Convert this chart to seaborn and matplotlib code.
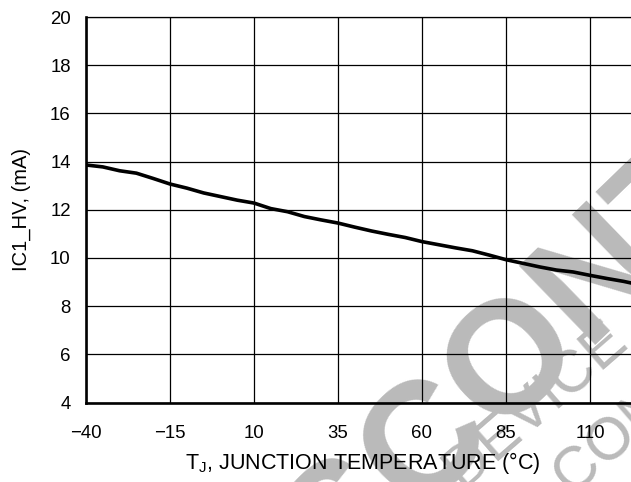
import matplotlib
matplotlib.use("Agg")
import matplotlib.pyplot as plt
import seaborn as sns
import pandas as pd

temps = [-40, -35, -30, -25, -20, -15, -10, -5, 0, 5, 10, 15, 20, 25, 30, 35,
         40, 45, 50, 55, 60, 65, 70, 75, 80, 85, 90, 95, 100, 105, 110, 115, 120, 125]
current = [13.86, 13.78, 13.62, 13.52, 13.30, 13.07, 12.90, 12.70, 12.55, 12.40, 12.28,
           12.05, 11.92, 11.72, 11.58, 11.45, 11.28, 11.12, 10.98, 10.85, 10.68, 10.55,
           10.42, 10.30, 10.12, 9.93, 9.78, 9.63, 9.50, 9.42, 9.28, 9.15, 9.03, 8.88]
xticks = [-40, -15, 10, 35, 60, 85, 110]
xtick_labels = ["\u221240", "\u221215", "10", "35", "60", "85", "110"]
yticks = [4, 6, 8, 10, 12, 14, 16, 18, 20]

df = pd.DataFrame({"T": temps, "I": current})

sns.set_theme(style="white")
plt.rcParams["font.family"] = ["Liberation Sans", "DejaVu Sans"]

W, H = 631, 482
fig = plt.figure(figsize=(W / 100, H / 100), dpi=100)
left = 86 / W
bottom = (H - 402.6) / H
height = 385.6 / H
width = 165 * 3.36 / W
ax = fig.add_axes([left, bottom, width, height])
ax.patch.set_alpha(0)

sns.lineplot(data=df, x="T", y="I", ax=ax, color="black", linewidth=2.6, zorder=5)

ax.set_xlim(-40, 125)
ax.set_ylim(4, 20)
ax.set_xticks(xticks)
ax.set_xticklabels(xtick_labels)
ax.set_yticks(yticks)
ax.grid(True, color="black", linewidth=0.9)
ax.set_axisbelow(False)
for l in ax.get_xgridlines() + ax.get_ygridlines():
    l.set_zorder(2)
ax.tick_params(axis="both", length=0, labelsize=13.4, colors="black")
ax.tick_params(axis="x", pad=16)
ax.tick_params(axis="y", pad=11)
for s in ["left", "bottom"]:
    ax.spines[s].set_linewidth(1.9)
    ax.spines[s].set_color("black")
ax.spines["top"].set_linewidth(0.9)
ax.spines["top"].set_color("black")
ax.spines["right"].set_visible(False)

ax.set_xlabel("T$_\\mathregular{J}$, JUNCTION TEMPERATURE (\u00b0C)", fontsize=15.5, color="black", labelpad=6)
ax.set_ylabel("IC1_HV, (mA)", fontsize=14.5, color="black", labelpad=14)

wm = "#bababa"
fig.text(222 / W, (H - 696) / H, "DISCONTINUED", rotation=44, rotation_mode="anchor",
         ha="left", va="baseline", fontsize=115, fontweight="bold", color=wm, zorder=-1)
fig.text(462 / W, (H - 490) / H, "DEVICE", rotation=41, rotation_mode="anchor",
         ha="left", va="baseline", fontsize=43, color=wm, zorder=-1)
fig.text(572 / W, (H - 496) / H, "CONTACT", rotation=41, rotation_mode="anchor",
         ha="left", va="baseline", fontsize=43, color=wm, zorder=-1)

fig.savefig("out.png", dpi=100)
